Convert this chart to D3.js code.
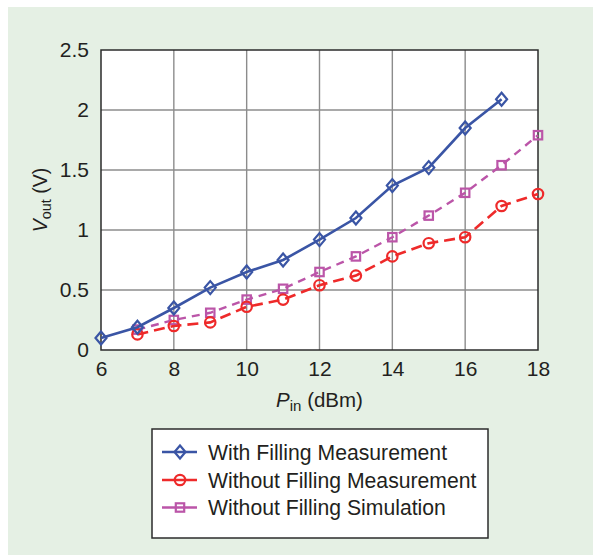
<!DOCTYPE html>
<html>
<head>
<meta charset="utf-8">
<script src="https://cdn.jsdelivr.net/npm/d3@7/dist/d3.min.js"></script>
<style>
  html, body { margin: 0; padding: 0; background: #ffffff; }
  svg { display: block; font-family: "Liberation Sans", Arial, Helvetica, sans-serif; }
</style>
</head>
<body>
<svg id="chart" width="593" height="556"></svg>
<script>
// Input power (dBm) for each series
const pinWith = [6, 7, 8, 9, 10, 11, 12, 13, 14, 15, 16, 17];
const pinWithout = [7, 8, 9, 10, 11, 12, 13, 14, 15, 16, 17, 18];

// Output voltage (V)
const voutWithMeas = [0.10, 0.19, 0.35, 0.52, 0.65, 0.75, 0.92, 1.10, 1.37, 1.52, 1.85, 2.09];
const voutWithoutMeas = [0.13, 0.20, 0.23, 0.36, 0.42, 0.54, 0.62, 0.78, 0.89, 0.94, 1.20, 1.30];
const voutWithoutSim = [0.17, 0.25, 0.31, 0.42, 0.51, 0.65, 0.78, 0.94, 1.12, 1.31, 1.54, 1.79];

const seriesNames = ["With Filling Measurement", "Without Filling Measurement", "Without Filling Simulation"];
const xTicks = [6, 8, 10, 12, 14, 16, 18];
const yTicks = [0, 0.5, 1, 1.5, 2, 2.5];

const svg = d3.select("#chart");

// panel background
svg.append("rect").attr("x", 8).attr("y", 7).attr("width", 585).attr("height", 548).attr("fill", "#e5f0e4");

const plot = { left: 101, right: 538, top: 50, bottom: 350 };
const x = d3.scaleLinear().domain([6, 18]).range([plot.left, plot.right]);
const y = d3.scaleLinear().domain([0, 2.5]).range([plot.bottom, plot.top]);

svg.append("rect")
  .attr("x", plot.left).attr("y", plot.top)
  .attr("width", plot.right - plot.left).attr("height", plot.bottom - plot.top)
  .attr("fill", "#ffffff");

// grid
const grid = svg.append("g").attr("stroke", "#8c8c8c").attr("stroke-width", 1.4);
grid.selectAll("line.v").data(xTicks.slice(1, -1)).join("line")
  .attr("x1", d => x(d)).attr("x2", d => x(d)).attr("y1", plot.top).attr("y2", plot.bottom);
grid.selectAll("line.h").data(yTicks.slice(1, -1)).join("line")
  .attr("y1", d => y(d)).attr("y2", d => y(d)).attr("x1", plot.left).attr("x2", plot.right);

// axes
const fmt = d => d3.format("")(d);
const xAxis = svg.append("g").attr("transform", `translate(0,${plot.bottom})`)
  .call(d3.axisBottom(x).tickValues(xTicks).tickSize(0).tickPadding(11).tickFormat(fmt));
const yAxis = svg.append("g").attr("transform", `translate(${plot.left},0)`)
  .call(d3.axisLeft(y).tickValues(yTicks).tickSize(0).tickPadding(12).tickFormat(fmt));
[xAxis, yAxis].forEach(g => {
  g.select(".domain").remove();
  g.selectAll("text").attr("font-size", 21).attr("fill", "#231f20")
    .attr("font-family", "'Liberation Sans', Arial, sans-serif");
});

// frame
svg.append("rect")
  .attr("x", plot.left).attr("y", plot.top)
  .attr("width", plot.right - plot.left).attr("height", plot.bottom - plot.top)
  .attr("fill", "none").attr("stroke", "#2b2b2b").attr("stroke-width", 1.5);

// axis titles
const xt = svg.append("text").attr("x", (plot.left + plot.right) / 2).attr("y", 407)
  .attr("text-anchor", "middle").attr("font-size", 20.5).attr("fill", "#231f20");
xt.append("tspan").attr("font-style", "italic").text("P");
xt.append("tspan").attr("font-size", 15).attr("dy", 4).text("in");
xt.append("tspan").attr("dy", -4).text(" (dBm)");

const yt = svg.append("text").attr("transform", `translate(47,${(plot.top + plot.bottom) / 2}) rotate(-90)`)
  .attr("text-anchor", "middle").attr("font-size", 19.5).attr("fill", "#231f20");
yt.append("tspan").attr("font-style", "italic").text("V");
yt.append("tspan").attr("font-size", 14.5).attr("dy", 4).text("out");
yt.append("tspan").attr("dy", -4).text(" (V)");

// series
const series = [
  { name: seriesNames[0], xs: pinWith, ys: voutWithMeas, color: "#3a55a5", dash: null, width: 2.6, marker: "diamond" },
  { name: seriesNames[1], xs: pinWithout, ys: voutWithoutMeas, color: "#ee2a2a", dash: "11,6", width: 2.6, marker: "circle" },
  { name: seriesNames[2], xs: pinWithout, ys: voutWithoutSim, color: "#bb55a8", dash: "8,6", width: 2.4, marker: "square" }
];

function drawMarker(g, type, cx, cy, color) {
  if (type === "diamond") {
    g.append("path").attr("d", `M${cx},${cy - 6.5}L${cx + 5.5},${cy}L${cx},${cy + 6.5}L${cx - 5.5},${cy}Z`)
      .attr("fill", "none").attr("stroke", color).attr("stroke-width", 2.2);
  } else if (type === "circle") {
    g.append("circle").attr("cx", cx).attr("cy", cy).attr("r", 5.2)
      .attr("fill", "none").attr("stroke", color).attr("stroke-width", 2.2);
  } else {
    g.append("rect").attr("x", cx - 4.2).attr("y", cy - 4.2).attr("width", 8.4).attr("height", 8.4)
      .attr("fill", "none").attr("stroke", color).attr("stroke-width", 2.2);
  }
}

const line = d3.line().x(d => x(d[0])).y(d => y(d[1]));
series.slice().reverse().forEach(s => {
  const pts = s.xs.map((v, i) => [v, s.ys[i]]);
  svg.append("path").datum(pts).attr("d", line)
    .attr("fill", "none").attr("stroke", s.color).attr("stroke-width", s.width)
    .attr("stroke-dasharray", s.dash);
  const mg = svg.append("g");
  pts.forEach(p => drawMarker(mg, s.marker, x(p[0]), y(p[1]), s.color));
});

// legend
const lg = svg.append("g");
lg.append("rect").attr("x", 152).attr("y", 429).attr("width", 336).attr("height", 109)
  .attr("fill", "#ffffff").attr("stroke", "#2b2b2b").attr("stroke-width", 1.5);
const rowY = [452, 480, 507.5];
series.forEach((s, i) => {
  lg.append("line").attr("x1", 162).attr("x2", 197).attr("y1", rowY[i]).attr("y2", rowY[i])
    .attr("stroke", s.color).attr("stroke-width", s.width);
  drawMarker(lg, s.marker, 180, rowY[i], s.color);
  lg.append("text").attr("x", 208).attr("y", rowY[i]).attr("dy", "0.36em")
    .attr("font-size", 21.2).attr("fill", "#231f20").text(s.name);
});
</script>
</body>
</html>
